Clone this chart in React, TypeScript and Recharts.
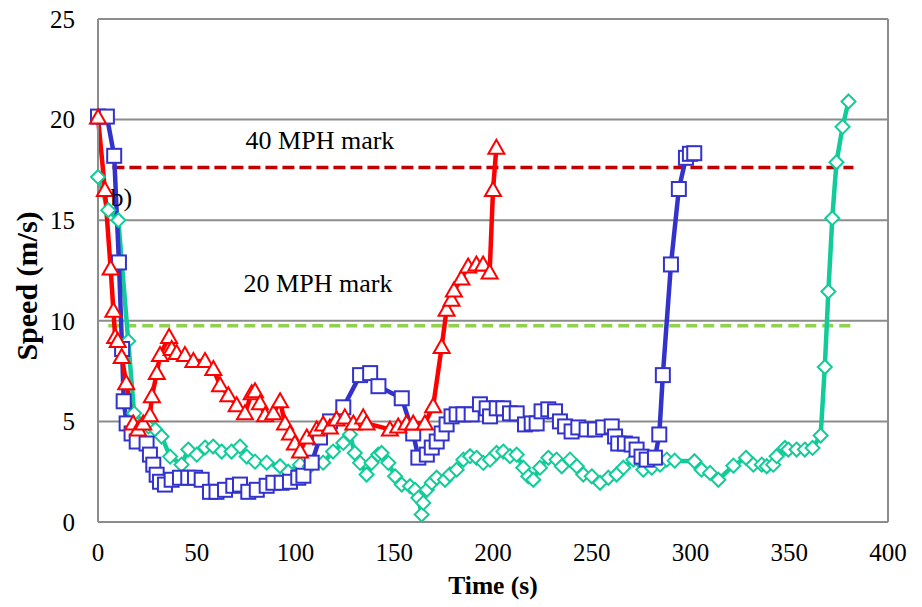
import React from "react";
import {
  LineChart,
  Line,
  XAxis,
  YAxis,
  CartesianGrid,
  ReferenceLine,
  ReferenceDot,
} from "recharts";

// x axis ticks (s) and y axis ticks (m/s)
const xTicks = [0, 50, 100, 150, 200, 250, 300, 350, 400];
const yTicks = [0, 5, 10, 15, 20, 25];

// red run (triangles)
const redTime = [
  0, 3.5, 6.4, 7.8, 8.7, 10, 12, 14.3, 17.8, 20.3, 22.9, 26.3, 27.3, 29.8, 31.4,
  36, 37.3, 39.8, 44, 48.3, 54.2, 58.4, 61.8, 66, 70.2, 74.4, 77.8, 79.5, 82,
  84.6, 88.8, 92.2, 94.7, 97.2, 99.7, 102.3, 105.7, 110.7, 114, 117.4, 120.8,
  125, 129.3, 134.3, 136, 147.8, 152, 156.2, 159.6, 165.5, 169.7, 174, 176.5,
  179, 180.2, 184, 187.4, 191.6, 195, 198.3, 200, 201.7,
];
const redSpeed = [
  20.1, 16.5, 12.6, 10.5, 9.2, 9.0, 8.2, 6.9, 4.9, 4.6, 4.9, 5.3, 6.25, 7.4, 8.3,
  9.2, 8.6, 8.4, 8.3, 8.0, 8.0, 7.6, 6.8, 6.3, 5.8, 5.4, 6.4, 6.5, 5.9, 5.3,
  5.4, 6.0, 4.9, 4.4, 3.9, 3.5, 4.2, 4.6, 4.85, 4.7, 5.1, 5.2, 4.9, 5.2, 4.9,
  4.6, 4.75, 4.9, 4.9, 4.9, 5.75, 8.7, 10.55, 11.05, 11.5, 12.1, 12.7, 12.8,
  12.8, 12.4, 16.5, 18.6,
];

// blue run (squares)
const blueTime = [
  0, 4.5, 8.2, 10.6, 12.2, 13, 14.5, 17, 19.6, 24.6, 26.3, 28, 29.7, 31.4, 33.9,
  37.3, 41.5, 45.7, 49.1, 52.5, 56.7, 60, 64.3, 68.5, 71.9, 76.1, 80.4, 85.4,
  88.8, 93, 97.2, 101.4, 104, 108.2, 112.4, 117.5, 124.2, 132.7, 137.8, 142,
  153.8, 159.6, 162.2, 166.5, 169, 171.5, 174, 176.5, 179, 181.6, 185, 189.2,
  193.4, 196.8, 198.5, 201.9, 205.2, 208.6, 212, 216.2, 219.6, 222.1, 224.6,
  228, 231.4, 233.9, 236.5, 239.8, 243.2, 247.4, 251.6, 255.8, 260.1, 261.8,
  263.4, 266.8, 270.2, 272.7, 275.2, 277.8, 282, 284.2, 286, 290.1, 294.1,
  297.7, 299.7, 301.9,
];
const blueSpeed = [
  20.15, 20.15, 18.2, 12.9, 8.6, 6.0, 4.9, 4.4, 4.0, 3.9, 3.35, 2.85, 2.35, 2.0,
  1.86, 2.1, 2.2, 2.2, 2.2, 2.1, 1.5, 1.5, 1.6, 1.8, 1.86, 1.5, 1.6, 1.8, 1.95,
  1.95, 2.0, 2.2, 2.3, 2.95, 4.2, 5.0, 5.7, 7.3, 7.4, 6.75, 6.15, 4.4, 3.2,
  3.35, 3.7, 4.0, 4.4, 4.85, 5.25, 5.35, 5.35, 5.35, 5.85, 5.65, 5.25, 5.65,
  5.65, 5.4, 5.4, 4.85, 4.9, 4.9, 5.5, 5.6, 5.5, 5.0, 4.75, 4.5, 4.7, 4.6, 4.6,
  4.7, 4.75, 4.25, 3.9, 3.9, 3.85, 3.6, 3.25, 3.1, 3.2, 4.35, 7.3, 12.8, 16.55,
  18.1, 18.3, 18.33,
];

// teal run (diamonds)
const tealTime = [
  0, 5.2, 10.3, 15.3, 18.3, 25.5, 29, 32.2, 36.5, 42.3, 45.7, 50, 54.2, 58.3,
  62.6, 67.6, 71.9, 75.3, 79.5, 85.4, 92.2, 96.3, 102.3, 107.3, 114, 119, 124.2,
  127.6, 130, 132.7, 136, 138.5, 141.9, 143.6, 147, 150.4, 153.8, 158, 160.5,
  162.2, 163.9, 164.7, 166.5, 169, 171.5, 175.7, 178.2, 181.6, 185, 188.4,
  191.7, 195.1, 198.5, 201.8, 205.2, 208.6, 212, 215.3, 217.9, 220.4, 223.8,
  228, 232.2, 234.8, 239, 242.4, 245.7, 250, 254.2, 258.4, 262.6, 266, 271.1,
  276.1, 280.4, 284.6, 288, 292, 302, 305.6, 309.9, 314.1, 321.7, 328.1, 331.8,
  336.1, 338.6, 341.9, 343.6, 347.8, 349.5, 353.7, 357.9, 361.8, 365.9, 368,
  369.8, 371.8, 373.9, 377, 380,
];
const tealSpeed = [
  17.15, 15.5, 15.0, 9.0, 5.4, 4.75, 4.6, 4.25, 3.25, 2.85, 3.6, 3.35, 3.7,
  3.75, 3.5, 3.5, 3.75, 3.25, 3.0, 2.95, 2.77, 2.5, 2.85, 2.77, 2.95, 3.5, 3.93,
  4.35, 3.43, 2.94, 2.36, 2.94, 3.35, 3.43, 2.94, 2.27, 1.86, 1.78, 1.6, 1.2,
  0.37, 0.95, 1.6, 1.95, 2.2, 2.1, 2.36, 2.6, 3.1, 3.27, 3.19, 2.94, 3.1, 3.43,
  3.5, 3.27, 3.35, 2.7, 2.27, 2.1, 2.7, 3.19, 3.1, 2.77, 3.1, 2.77, 2.36, 2.27,
  1.95, 2.2, 2.36, 2.7, 3.1, 2.6, 2.7, 2.85, 3.1, 3.05, 3.02, 2.6, 2.44, 2.1,
  2.8, 3.19, 2.85, 2.85, 2.77, 2.85, 3.27, 3.68, 3.6, 3.6, 3.6, 3.68, 4.3, 7.7,
  11.46, 15.1, 17.88, 19.64, 20.9,
];

// speed marks (dashed lines) and their extent in time
const mark40 = 17.62;
const mark20 = 9.76;
const mark40Span = [7.3, 382.5];
const mark20Span = [5.2, 382.5];

const zip = (ts: number[], vs: number[]) => ts.map((t, i) => ({ t, v: vs[i] }));

const redData = zip(redTime, redSpeed);
const blueData = zip(blueTime, blueSpeed);
const tealData = zip(tealTime, tealSpeed);
const mark40Data = mark40Span.map((t) => ({ t, v: mark40 }));
const mark20Data = mark20Span.map((t) => ({ t, v: mark20 }));

const RED = "#ff0000";
const BLUE = "#3333cc";
const TEAL = "#11cc99";
const GRID = "#8c8c8c";
const FONT = '"Liberation Serif", "Times New Roman", serif';

function TriangleDot(props: any) {
  const { cx, cy, index } = props;
  if (cx == null || cy == null) return <g key={`t-${index}`} />;
  return (
    <path
      key={`t-${index}`}
      d={`M${cx},${cy - 8}L${cx + 8},${cy + 6}L${cx - 8},${cy + 6}Z`}
      fill="#fff"
      stroke={RED}
      strokeWidth={2}
    />
  );
}

function SquareDot(props: any) {
  const { cx, cy, index } = props;
  if (cx == null || cy == null) return <g key={`s-${index}`} />;
  return (
    <rect
      key={`s-${index}`}
      x={cx - 7}
      y={cy - 7}
      width={14}
      height={14}
      fill="#fff"
      stroke={BLUE}
      strokeWidth={2}
    />
  );
}

function DiamondDot(props: any) {
  const { cx, cy, index } = props;
  if (cx == null || cy == null) return <g key={`d-${index}`} />;
  return (
    <path
      key={`d-${index}`}
      d={`M${cx},${cy - 7}L${cx + 7},${cy}L${cx},${cy + 7}L${cx - 7},${cy}Z`}
      fill="#fff"
      stroke={TEAL}
      strokeWidth={2}
    />
  );
}

const noteStyle = { fontSize: 26, fill: "#000", fontFamily: FONT };
const tickStyle = { fontSize: 25, fill: "#000", fontFamily: FONT };

export default function App() {
  return (
    <div style={{ position: "absolute", left: 0, top: 0, fontFamily: FONT }}>
      <LineChart
        width={922}
        height={607}
        margin={{ top: 19, right: 34, bottom: 0, left: 0 }}
        style={{ fontFamily: FONT }}
      >
        <CartesianGrid vertical={false} stroke={GRID} strokeWidth={2} />
        <XAxis
          type="number"
          dataKey="t"
          domain={[0, 400]}
          ticks={xTicks}
          tickLine={false}
          tickSize={0}
          tickMargin={21}
          axisLine={{ stroke: GRID, strokeWidth: 2 }}
          tick={tickStyle}
          height={85}
          label={{
            content: () => (
              <text
                x={493}
                y={594}
                textAnchor="middle"
                fontSize={25.5}
                fontWeight="bold"
                fontFamily={FONT}
                fill="#000"
              >
                Time (s)
              </text>
            ),
          }}
        />
        <YAxis
          type="number"
          domain={[0, 25]}
          ticks={yTicks}
          tickLine={false}
          tickSize={0}
          tickMargin={23}
          axisLine={{ stroke: GRID, strokeWidth: 2 }}
          tick={tickStyle}
          width={98}
          label={{
            content: () => (
              <text
                x={37}
                y={286}
                transform="rotate(-90 37 286)"
                textAnchor="middle"
                fontSize={30}
                fontWeight="bold"
                fontFamily={FONT}
                fill="#000"
              >
                Speed (m/s)
              </text>
            ),
          }}
        />
        <ReferenceLine x={400} stroke={GRID} strokeWidth={2} />
        <ReferenceLine y={25} stroke={GRID} strokeWidth={2} />

        <Line
          data={mark40Data}
          dataKey="v"
          stroke="#c00000"
          strokeWidth={3.5}
          strokeDasharray="12 5"
          dot={false}
          isAnimationActive={false}
        />
        <Line
          data={mark20Data}
          dataKey="v"
          stroke="#92d050"
          strokeWidth={3.5}
          strokeDasharray="11 6"
          dot={false}
          isAnimationActive={false}
        />

        <Line
          data={tealData}
          dataKey="v"
          stroke={TEAL}
          strokeWidth={4.5}
          dot={DiamondDot}
          isAnimationActive={false}
        />
        <Line
          data={blueData}
          dataKey="v"
          stroke={BLUE}
          strokeWidth={4.5}
          dot={SquareDot}
          isAnimationActive={false}
        />
        <Line
          data={redData}
          dataKey="v"
          stroke={RED}
          strokeWidth={4.5}
          dot={TriangleDot}
          isAnimationActive={false}
        />

        <ReferenceDot
          x={112.4}
          y={19.0}
          r={0}
          stroke="none"
          fill="none"
          label={{ value: "40 MPH mark", position: "center", ...noteStyle }}
        />
        <ReferenceDot
          x={111.4}
          y={11.9}
          r={0}
          stroke="none"
          fill="none"
          label={{ value: "20 MPH mark", position: "center", ...noteStyle }}
        />
        <ReferenceDot
          x={11.8}
          y={16.15}
          r={0}
          stroke="none"
          fill="none"
          label={{ value: "b)", position: "center", ...noteStyle }}
        />
      </LineChart>
    </div>
  );
}
